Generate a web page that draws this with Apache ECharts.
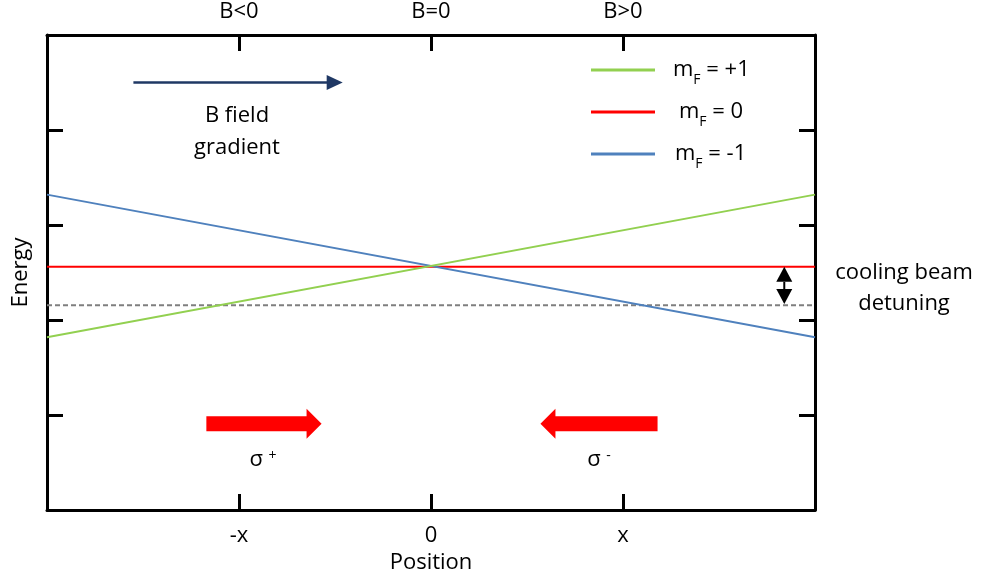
<!DOCTYPE html>
<html><head><meta charset="utf-8">
<script src="https://cdn.jsdelivr.net/npm/echarts@6/dist/echarts.min.js"></script>
<style>html,body{margin:0;padding:0;background:#fff;} #c{width:983px;height:579px;}</style>
</head><body><div id="c"></div>
<script>
// ---- data ----
const positionTicks = [-1, 0, 1];
const positionLabels = ['-x', '0', 'x'];
const fieldLabels = ['B<0', 'B=0', 'B>0'];
const seriesNames = ['mF = +1', 'mF = 0', 'mF = -1'];
const positions = [-2, 2];
const energyPlus1 = [1.82, 3.32];
const energyZero = [2.56, 2.56];
const energyMinus1 = [3.32, 1.82];
const laserEnergy = [2.155, 2.155];
// arrows: [xStart, yStart, xTip, yTip] in data units
const fieldArrow = [-1.55, 4.5, -0.46, 4.5];
const sigmaPlusArrow = [-1.17, 0.91, -0.57, 0.91];
const sigmaMinusArrow = [1.18, 0.91, 0.57, 0.91];
const detuningArrow = [1.84, 2.56, 1.84, 2.17];

const FONT = '"Open Sans", "Noto Sans", sans-serif';
const chart = echarts.init(document.getElementById('c'));

function arrowSeries(name, arr, opt) {
  return {
    type: 'custom', name: name, silent: true, z: 5,
    data: [arr],
    renderItem: function (params, api) {
      const p1 = api.coord([api.value(0), api.value(1)]);
      const p2 = api.coord([api.value(2), api.value(3)]);
      const dx = p2[0] - p1[0], dy = p2[1] - p1[1];
      const len = Math.sqrt(dx * dx + dy * dy);
      const ux = dx / len, uy = dy / len, nx = -uy, ny = ux;
      const children = [];
      const head = function (tip, sx, sy) {
        const bx = tip[0] - sx * opt.headLen, by = tip[1] - sy * opt.headLen;
        children.push({ type: 'polygon', shape: { points: [
          [tip[0], tip[1]],
          [bx + nx * opt.headW / 2, by + ny * opt.headW / 2],
          [bx - nx * opt.headW / 2, by - ny * opt.headW / 2]] },
          style: { fill: opt.color } });
        return [bx, by];
      };
      const b2 = head(p2, ux, uy);
      let b1 = p1;
      if (opt.both) b1 = head(p1, -ux, -uy);
      const hw = opt.shaftW / 2;
      children.push({ type: 'polygon', shape: { points: [
        [b1[0] + nx * hw, b1[1] + ny * hw], [b2[0] + nx * hw + ux * 0.5, b2[1] + ny * hw + uy * 0.5],
        [b2[0] - nx * hw + ux * 0.5, b2[1] - ny * hw + uy * 0.5], [b1[0] - nx * hw, b1[1] - ny * hw]] },
        style: { fill: opt.color } });
      return { type: 'group', children: children };
    }
  };
}

function xLabel(labels) {
  return function (v) { const i = positionTicks.indexOf(v); return i >= 0 ? labels[i] : ''; };
}

const axisLine = { show: true, onZero: false, lineStyle: { color: '#000', width: 3 } };
const axisTick = { show: true, inside: true, length: 16, lineStyle: { color: '#000', width: 3 } };

chart.setOption({
  animation: false,
  backgroundColor: '#fff',
  textStyle: { fontFamily: FONT },
  grid: { left: 47, right: 168, top: 35, bottom: 66, containLabel: false },
  xAxis: [
    { type: 'value', min: -2, max: 2, interval: 1, position: 'bottom',
      axisLine: axisLine, axisTick: axisTick, splitLine: { show: false },
      axisLabel: { formatter: xLabel(positionLabels), color: '#000', fontSize: 22, margin: 15, fontFamily: FONT },
      name: 'Position', nameLocation: 'middle', nameGap: 39,
      nameTextStyle: { color: '#000', fontSize: 22, fontFamily: FONT } },
    { type: 'value', min: -2, max: 2, interval: 1, position: 'top',
      axisLine: axisLine, axisTick: axisTick, splitLine: { show: false },
      axisLabel: { formatter: xLabel(fieldLabels), color: '#000', fontSize: 22, margin: 12, fontFamily: FONT } }
  ],
  yAxis: [
    { type: 'value', min: 0, max: 5, interval: 1, position: 'left',
      axisLine: axisLine, axisTick: axisTick, splitLine: { show: false }, axisLabel: { show: false },
      name: 'Energy', nameLocation: 'middle', nameGap: 15, nameRotate: 90,
      nameTextStyle: { color: '#000', fontSize: 22, fontFamily: FONT } },
    { type: 'value', min: 0, max: 5, interval: 1, position: 'right',
      axisLine: axisLine, axisTick: axisTick, splitLine: { show: false }, axisLabel: { show: false } }
  ],
  legend: {
    orient: 'vertical', left: 591, top: 53, padding: 0, itemWidth: 64, itemHeight: 3, icon: 'rect', itemGap: 8,
    data: [
      { name: seriesNames[0], textStyle: { padding: [0, 0, 0, 13] } },
      { name: seriesNames[1], textStyle: { padding: [0, 0, 0, 19] } },
      { name: seriesNames[2], textStyle: { padding: [0, 0, 0, 15] } }
    ],
    formatter: function (n) { return '{m|m}{s|F}{m|' + n.slice(2) + '}'; },
    textStyle: { color: '#000', fontFamily: FONT, fontSize: 22,
      rich: { m: { fontSize: 22, lineHeight: 22, fontFamily: FONT, color: '#000' },
              s: { fontSize: 14, lineHeight: 14, padding: [20, 0, 0, 0], fontFamily: FONT, color: '#000' } } }
  },
  series: [
    { type: 'line', name: 'laser', data: positions.map((x, i) => [x, laserEnergy[i]]), symbol: 'none',
      lineStyle: { color: '#7f7f7f', width: 2, type: [5, 3] }, z: 1 },
    { type: 'line', name: seriesNames[1], data: positions.map((x, i) => [x, energyZero[i]]), symbol: 'none',
      color: '#ff0000', lineStyle: { color: '#ff0000', width: 2 }, z: 2 },
    { type: 'line', name: seriesNames[2], data: positions.map((x, i) => [x, energyMinus1[i]]), symbol: 'none',
      color: '#4f81bd', lineStyle: { color: '#4f81bd', width: 2 }, z: 3 },
    { type: 'line', name: seriesNames[0], data: positions.map((x, i) => [x, energyPlus1[i]]), symbol: 'none',
      color: '#92d050', lineStyle: { color: '#92d050', width: 2 }, z: 4 },
    arrowSeries('field', fieldArrow, { color: '#1f3864', shaftW: 2.5, headLen: 16, headW: 15 }),
    arrowSeries('sigmaPlus', sigmaPlusArrow, { color: '#ff0000', shaftW: 15, headLen: 15, headW: 30 }),
    arrowSeries('sigmaMinus', sigmaMinusArrow, { color: '#ff0000', shaftW: 15, headLen: 15, headW: 30 }),
    arrowSeries('detuning', detuningArrow, { color: '#000', shaftW: 2, headLen: 15, headW: 16, both: true })
  ],
  graphic: [
    { type: 'text', x: 237, y: 132, style: { text: 'B field\ngradient', font: '22px ' + FONT, fill: '#000',
      align: 'center', verticalAlign: 'middle', lineHeight: 32 } },
    { type: 'text', x: 904, y: 288, style: { text: 'cooling beam\ndetuning', font: '22px ' + FONT, fill: '#000',
      align: 'center', verticalAlign: 'middle', lineHeight: 31 } },
    { type: 'text', x: 263, y: 460, style: { text: '{a|σ }{b|+}', align: 'center', verticalAlign: 'middle',
      rich: { a: { fontSize: 22, lineHeight: 22, fontFamily: FONT, fill: '#000' },
              b: { fontSize: 14, lineHeight: 10, verticalAlign: 'top', fontFamily: FONT, fill: '#000' } } } },
    { type: 'text', x: 599, y: 460, style: { text: '{a|σ }{b|-}', align: 'center', verticalAlign: 'middle',
      rich: { a: { fontSize: 22, lineHeight: 22, fontFamily: FONT, fill: '#000' },
              b: { fontSize: 14, lineHeight: 10, verticalAlign: 'top', fontFamily: FONT, fill: '#000' } } } }
  ]
});
</script></body></html>
